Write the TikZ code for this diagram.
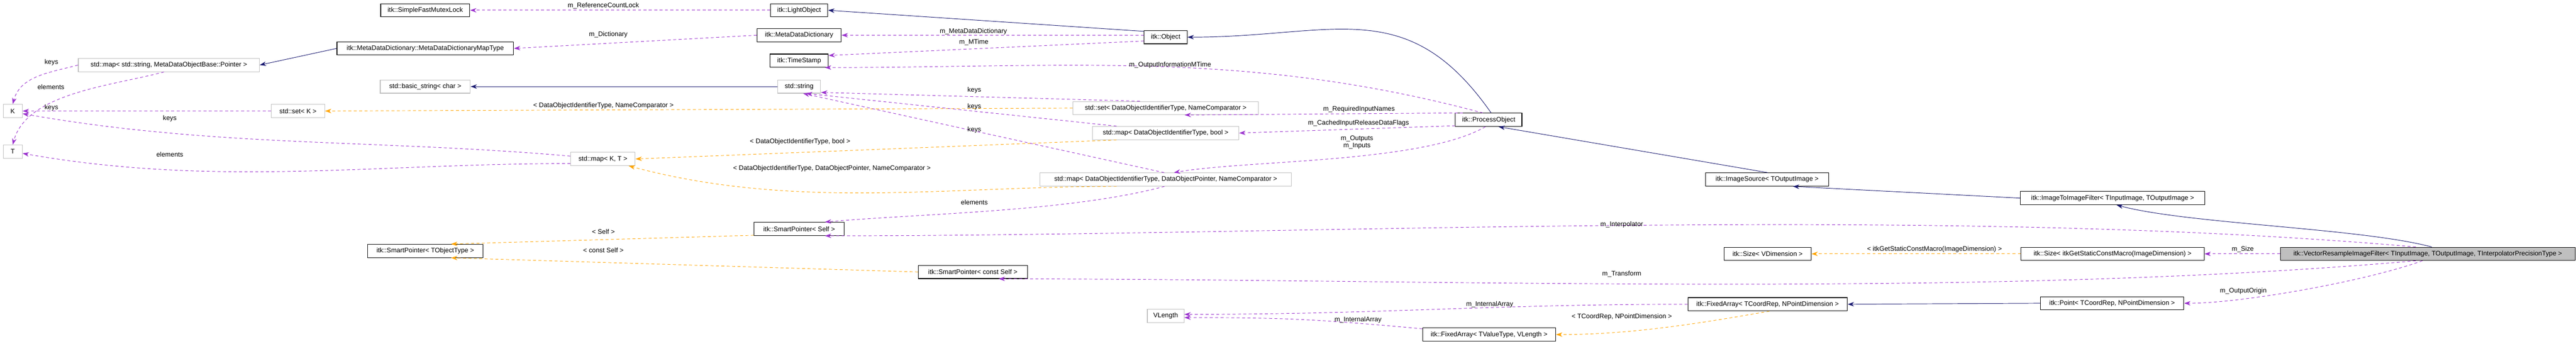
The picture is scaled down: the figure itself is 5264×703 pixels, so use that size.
\documentclass[tikz,border=0pt]{standalone}
\usepackage{fontspec}
\setmainfont{Liberation Sans}
\usetikzlibrary{arrows.meta}
\definecolor{navy}{HTML}{191970}
\definecolor{purp}{HTML}{9A32CD}
\definecolor{orng}{HTML}{FFA500}
\definecolor{gbord}{HTML}{BFBFBF}
\begin{document}
\begin{tikzpicture}[x=1pt,y=-1pt,
  box/.style={draw=black,line width=1.2pt,inner sep=0pt,minimum height=27pt,font=\fontsize{13.5}{14}\selectfont},
  gbox/.style={box,draw=gbord},
  inh/.style={draw=navy,line width=1pt,-{Stealth[length=13pt,width=9pt]}},
  use/.style={draw=purp,line width=1pt,dash pattern=on 6pt off 5pt,-{Stealth[length=13pt,width=9pt]}},
  tpl/.style={draw=orng,line width=1pt,dash pattern=on 6pt off 5pt,-{Stealth[length=13pt,width=9pt]}},
  lbl/.style={inner sep=0pt,font=\fontsize{13.5}{14}\selectfont,align=center}]
\useasboundingbox (0,0) rectangle (5264,703);
% nodes
\node[box,minimum width=182] (sfml) at (869,21) {itk::SimpleFastMutexLock};
\node[box,minimum width=117] (lightobj) at (1633,21) {itk::LightObject};
\node[box,minimum width=172] (mdd) at (1633,72) {itk::MetaDataDictionary};
\node[box,minimum width=88] (object) at (2382,76) {itk::Object};
\node[box,minimum width=361] (maptype) at (869,99) {itk::MetaDataDictionary::MetaDataDictionaryMapType};
\node[box,minimum width=119] (timestamp) at (1633,124) {itk::TimeStamp};
\node[gbox,minimum width=370] (mapstr) at (345,133) {std::map< std::string, MetaDataObjectBase::Pointer >};
\node[gbox,minimum width=184] (basicstr) at (869,177) {std::basic\_string< char >};
\node[gbox,minimum width=88] (string) at (1633,177) {std::string};
\node[gbox,minimum width=379] (setdoit) at (2382,221) {std::set< DataObjectIdentifierType, NameComparator >};
\node[gbox,minimum width=39] (K) at (26,227) {K};
\node[gbox,minimum width=109] (setK) at (609,227) {std::set< K >};
\node[box,minimum width=136] (po) at (3042,245) {itk::ProcessObject};
\node[gbox,minimum width=299] (mapbool) at (2382,272) {std::map< DataObjectIdentifierType, bool >};
\node[gbox,minimum width=39] (T) at (26,310) {T};
\node[gbox,minimum width=132] (mapKT) at (1232,325) {std::map< K, T >};
\node[gbox,minimum width=514] (mapdop) at (2382,367) {std::map< DataObjectIdentifierType, DataObjectPointer, NameComparator >};
\node[box,minimum width=251] (imgsrc) at (3611,367) {itk::ImageSource< TOutputImage >};
\node[box,minimum width=377] (i2i) at (4317,405) {itk::ImageToImageFilter< TInputImage, TOutputImage >};
\node[box,minimum width=184] (spself) at (1633,468) {itk::SmartPointer< Self >};
\node[box,minimum width=236] (spTO) at (869,513) {itk::SmartPointer< TObjectType >};
\node[box,minimum width=178] (sizeV) at (3612,519) {itk::Size< VDimension >};
\node[box,minimum width=374] (sizeM) at (4317,519) {itk::Size< itkGetStaticConstMacro(ImageDimension) >};
\node[box,fill=gbord,minimum width=602] (vr) at (4961,519) {itk::VectorResampleImageFilter< TInputImage, TOutputImage, TInterpolatorPrecisionType >};
\node[box,minimum width=223] (spcself) at (1988,556) {itk::SmartPointer< const Self >};
\node[box,minimum width=326] (fatc) at (3612,622) {itk::FixedArray< TCoordRep, NPointDimension >};
\node[box,minimum width=293] (point) at (4316,620) {itk::Point< TCoordRep, NPointDimension >};
\node[gbox,minimum width=75] (vlength) at (2382,646) {VLength};
\node[box,minimum width=272] (fatv) at (3043,684) {itk::FixedArray< TValueType, VLength >};
% edges
\draw[use] (lightobj.west) -- (sfml.east);
\draw[inh] (object.165) -- (lightobj.east);
\draw[use] (mdd.west) -- (maptype.east);
\draw[inh] (maptype.west) -- (mapstr.east);
\draw[use] (object.175) -- (mdd.east);
\draw[use] (object.190) -- (timestamp.10);
\draw[use] (po.130) .. controls +(-165:500) and +(0:500) .. (timestamp.-15);
\draw[inh] (po.70) .. controls +(-125:300) and +(0:300) .. (object.east);
\draw[inh] (string.west) -- (basicstr.east);
\draw[use] (setK.west) -- (K.east);
\draw[use] (mapstr.west) .. controls +(-195:60) and +(-75:60) .. (K.north);
\draw[use] (mapstr.-125) .. controls +(-195:110) and +(-75:110) .. (T.north);
\draw[use] (mapKT.175) .. controls +(-175:400) and +(10:400) .. (K.-15);
\draw[use] (mapKT.188) .. controls +(-180:400) and +(10:400) .. (T.-10);
\draw[tpl] (setdoit.west) -- (setK.east);
\draw[tpl] (mapbool.188) -- (mapKT.east);
\draw[tpl] (mapdop.188) .. controls +(-180:350) and +(15:350) .. (mapKT.-15);
\draw[use] (setdoit.165) -- (string.-15);
\draw[use] (mapbool.172) -- (string.-45);
\draw[use] (mapdop.102) -- (string.-60);
\draw[use] (po.165) -- (setdoit.-20);
\draw[use] (po.190) -- (mapbool.east);
\draw[use] (po.-115) .. controls +(-210:150) and +(-10:150) .. (mapdop.40);
\draw[use] (mapdop.-100) .. controls +(-195:200) and +(-5:200) .. (spself.15);
\draw[use] (vr.150) .. controls +(-175:1000) and +(0:1000) .. (spself.-15);
\draw[tpl] (spself.188) -- (spTO.15);
\draw[tpl] (spcself.west) -- (spTO.-15);
\draw[use] (vr.-150) .. controls +(-185:900) and +(0:900) .. (spcself.-15);
\draw[inh] (imgsrc.85) -- (po.-35);
\draw[inh] (i2i.west) -- (imgsrc.-15);
\draw[inh] (vr.60) .. controls +(-165:150) and +(15:150) .. (i2i.-60);
\draw[use] (vr.west) -- (sizeM.east);
\draw[tpl] (sizeM.west) -- (sizeV.east);
\draw[use] (vr.-128) .. controls +(-200:120) and +(0:120) .. (point.east);
\draw[inh] (point.west) -- (fatc.east);
\draw[use] (fatc.west) .. controls +(-180:400) and +(0:400) .. (vlength.5);
\draw[use] (fatv.175) .. controls +(-175:220) and +(0:220) .. (vlength.-5);
\draw[tpl] (fatc.-75) .. controls +(-190:150) and +(0:150) .. (fatv.east);
% labels
\node[lbl] (l1) at (1233,12) {m\_ReferenceCountLock};
\node[lbl] (l2) at (1243,71) {m\_Dictionary};
\node[lbl] (l3) at (1989,64) {m\_MetaDataDictionary};
\node[lbl] (l4) at (1990,86) {m\_MTime};
\node[lbl] (l5) at (2391,133) {m\_OutputInformationMTime};
\node[lbl] (l6) at (105,128) {keys};
\node[lbl] (l7) at (104,178) {elements};
\node[lbl] (l8) at (105,220) {keys};
\node[lbl] (l9) at (347,242) {keys};
\node[lbl] (l10) at (347,316) {elements};
\node[lbl] (l11) at (1233,216) {< DataObjectIdentifierType, NameComparator >};
\node[lbl] (l12) at (1635,290) {< DataObjectIdentifierType, bool >};
\node[lbl] (l13) at (1700,344) {< DataObjectIdentifierType, DataObjectPointer, NameComparator >};
\node[lbl] (l14) at (1991,184) {keys};
\node[lbl] (l15) at (1991,218) {keys};
\node[lbl] (l16) at (1991,266) {keys};
\node[lbl] (l17) at (2777,223) {m\_RequiredInputNames};
\node[lbl] (l18) at (2776,252) {m\_CachedInputReleaseDataFlags};
\node[lbl] (l19) at (2773,291) {m\_Outputs\\m\_Inputs};
\node[lbl] (l20) at (1991,414) {elements};
\node[lbl] (l21) at (3314,459) {m\_Interpolator};
\node[lbl] (l22) at (1233,474) {< Self >};
\node[lbl] (l23) at (1233,512) {< const Self >};
\node[lbl] (l24) at (3314,560) {m\_Transform};
\node[lbl] (l25) at (4583,510) {m\_Size};
\node[lbl] (l26) at (3953,510) {< itkGetStaticConstMacro(ImageDimension) >};
\node[lbl] (l27) at (4584,595) {m\_OutputOrigin};
\node[lbl] (l28) at (3044,622) {m\_InternalArray};
\node[lbl] (l29) at (2775,654) {m\_InternalArray};
\node[lbl] (l30) at (3314,648) {< TCoordRep, NPointDimension >};
\end{tikzpicture}
\end{document}
